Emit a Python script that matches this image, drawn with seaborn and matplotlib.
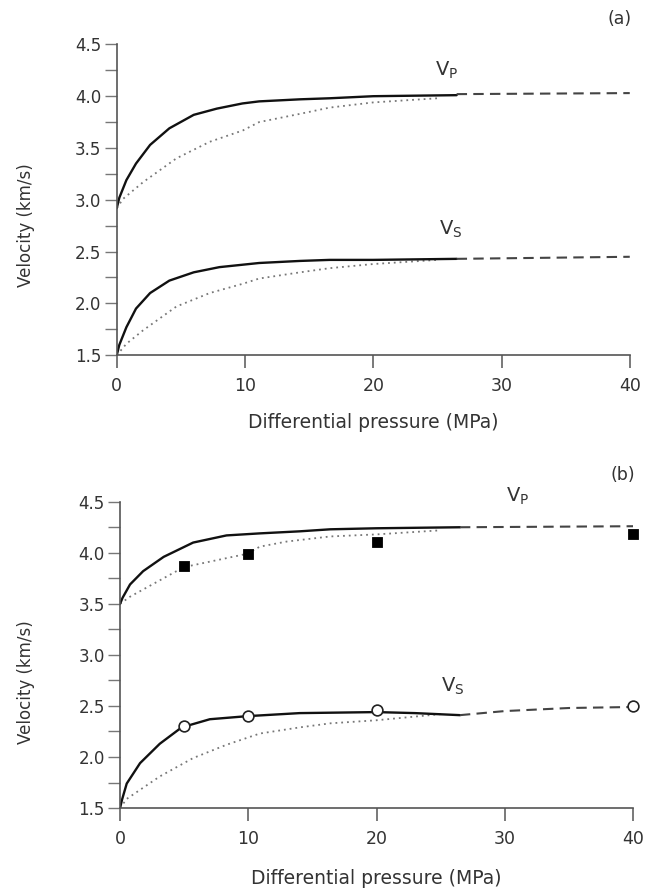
import numpy as np
import pandas as pd
import matplotlib
matplotlib.use("Agg")
import matplotlib.pyplot as plt
import seaborn as sns
from matplotlib.ticker import MultipleLocator, FormatStrFormatter

sns.set_style("ticks")
plt.rcParams['font.family'] = ['DejaVu Sans']

# ---- panel (a) ----
a_vp_x = [0, 0.2, 0.75, 1.5, 2.6, 4.1, 6.0, 7.8, 9.8, 11.1, 14.3, 16.6, 20, 26.5]
a_vp_solid = [2.92, 3.02, 3.19, 3.35, 3.53, 3.69, 3.82, 3.88, 3.93, 3.95, 3.97, 3.98, 4.00, 4.01]
a_vp_dot_x = [0, 0.5, 2.05, 4.65, 7.25, 9.84, 11.1, 14.3, 16.6, 20, 25]
a_vp_dot = [2.92, 3.01, 3.17, 3.40, 3.56, 3.67, 3.75, 3.83, 3.89, 3.94, 3.98]
a_vp_dash_x = [26.5, 40]
a_vp_dash = [4.02, 4.03]

a_vs_x = [0, 0.2, 0.75, 1.5, 2.6, 4.1, 6.0, 8.0, 11.1, 14.3, 16.6, 20, 26.5]
a_vs_solid = [1.50, 1.60, 1.77, 1.95, 2.10, 2.22, 2.30, 2.35, 2.39, 2.41, 2.42, 2.42, 2.43]
a_vs_dot_x = [0, 0.75, 2.05, 4.65, 7.25, 9.84, 11.1, 14.3, 16.6, 20, 25]
a_vs_dot = [1.50, 1.61, 1.74, 1.97, 2.10, 2.19, 2.24, 2.30, 2.34, 2.38, 2.42]
a_vs_dash_x = [26.5, 40]
a_vs_dash = [2.43, 2.45]

# ---- panel (b) ----
b_vp_x = [0, 0.2, 0.78, 1.8, 3.4, 5.7, 8.3, 10.9, 14, 16.4, 20, 26.5]
b_vp_solid = [3.50, 3.56, 3.69, 3.82, 3.96, 4.10, 4.17, 4.19, 4.21, 4.23, 4.24, 4.25]
b_vp_dot_x = [0, 0.78, 4.4, 5, 9.9, 10.9, 13, 16.4, 20, 25]
b_vp_dot = [3.50, 3.57, 3.82, 3.86, 3.99, 4.06, 4.11, 4.16, 4.18, 4.22]
b_vp_dash_x = [26.5, 40]
b_vp_dash = [4.25, 4.26]

b_vs_x = [0, 0.15, 0.52, 1.56, 3.1, 4.8, 7.0, 9.9, 14, 20, 23, 26.5]
b_vs_solid = [1.50, 1.58, 1.74, 1.94, 2.13, 2.29, 2.37, 2.40, 2.43, 2.44, 2.43, 2.41]
b_vs_dot_x = [0, 0.52, 3.1, 5.7, 8.3, 10.9, 14, 16.4, 20, 25]
b_vs_dot = [1.50, 1.59, 1.81, 1.99, 2.12, 2.23, 2.29, 2.33, 2.36, 2.42]
b_vs_dash_x = [26.5, 30, 35, 40]
b_vs_dash = [2.41, 2.45, 2.48, 2.49]

meas_p = [5, 10, 20, 40]
meas_vp = [3.87, 3.99, 4.11, 4.18]
meas_vs = [2.30, 2.40, 2.46, 2.50]

fig = plt.figure(figsize=(6.56, 8.88), dpi=100)
ax1 = fig.add_axes([0.178, 0.600, 0.782, 0.350])
ax2 = fig.add_axes([0.183, 0.090, 0.782, 0.345])

txt_c = '#333333'


def draw(ax, x, y, style):
    if style == 'solid':
        sns.lineplot(x=x, y=y, ax=ax, color='#111111', lw=1.7, estimator=None, sort=False)
    elif style == 'dot':
        sns.lineplot(x=x, y=y, ax=ax, color='#777777', lw=1.3, estimator=None, sort=False,
                     linestyle=(0, (1, 2.2)))
    else:
        sns.lineplot(x=x, y=y, ax=ax, color='#444444', lw=1.5, estimator=None, sort=False,
                     linestyle=(0, (5, 3)))


draw(ax1, a_vp_dot_x, a_vp_dot, 'dot')
draw(ax1, a_vs_dot_x, a_vs_dot, 'dot')
draw(ax1, a_vp_x, a_vp_solid, 'solid')
draw(ax1, a_vs_x, a_vs_solid, 'solid')
draw(ax1, a_vp_dash_x, a_vp_dash, 'dash')
draw(ax1, a_vs_dash_x, a_vs_dash, 'dash')

draw(ax2, b_vp_dot_x, b_vp_dot, 'dot')
draw(ax2, b_vs_dot_x, b_vs_dot, 'dot')
draw(ax2, b_vp_x, b_vp_solid, 'solid')
draw(ax2, b_vs_x, b_vs_solid, 'solid')
draw(ax2, b_vp_dash_x, b_vp_dash, 'dash')
draw(ax2, b_vs_dash_x, b_vs_dash, 'dash')

sns.scatterplot(x=meas_p, y=meas_vp, ax=ax2, marker='s', s=55, color='black',
                edgecolor='black', zorder=5, clip_on=False)
sns.scatterplot(x=meas_p, y=meas_vs, ax=ax2, marker='o', s=60, facecolor='white',
                edgecolor='#222222', linewidth=1.2, zorder=5, clip_on=False)

for ax in [ax1, ax2]:
    ax.set_xlim(0, 40)
    ax.set_ylim(1.5, 4.5)
    ax.xaxis.set_major_locator(MultipleLocator(10))
    ax.yaxis.set_major_locator(MultipleLocator(0.5))
    ax.yaxis.set_minor_locator(MultipleLocator(0.25))
    ax.yaxis.set_major_formatter(FormatStrFormatter('%.1f'))
    sns.despine(ax=ax)
    for sp in ['left', 'bottom']:
        ax.spines[sp].set_color('#555555')
        ax.spines[sp].set_linewidth(1.2)
    ax.tick_params(axis='x', length=9, width=1.1, color='#555555', pad=7,
                   labelsize=12.5, labelcolor=txt_c)
    ax.tick_params(axis='y', which='both', length=9, width=1.0, color='#777777', pad=2,
                   labelsize=12, labelcolor=txt_c)
    ax.set_xlabel('Differential pressure (MPa)', fontsize=13.5, color=txt_c)
    ax.set_ylabel('Velocity (km/s)', fontsize=12, color=txt_c)

ax1.xaxis.set_label_coords(0.5, -0.186)
ax1.yaxis.set_label_coords(-0.16, 0.42)
ax2.xaxis.set_label_coords(0.5, -0.200)
ax2.yaxis.set_label_coords(-0.165, 0.41)

ax1.text(39.2, 4.75, '(a)', fontsize=12.5, color=txt_c, ha='center', va='center', clip_on=False)
ax1.text(25.7, 4.25, r'V$_\mathrm{P}$', fontsize=14, color=txt_c, ha='center', va='center')
ax1.text(26.0, 2.71, r'V$_\mathrm{S}$', fontsize=14, color=txt_c, ha='center', va='center')

ax2.text(39.2, 4.76, '(b)', fontsize=12.5, color=txt_c, ha='center', va='center', clip_on=False)
ax2.text(31.0, 4.55, r'V$_\mathrm{P}$', fontsize=14, color=txt_c, ha='center', va='center',
         clip_on=False)
ax2.text(25.9, 2.69, r'V$_\mathrm{S}$', fontsize=14, color=txt_c, ha='center', va='center')

fig.savefig('out.png', dpi=100, facecolor='white')
